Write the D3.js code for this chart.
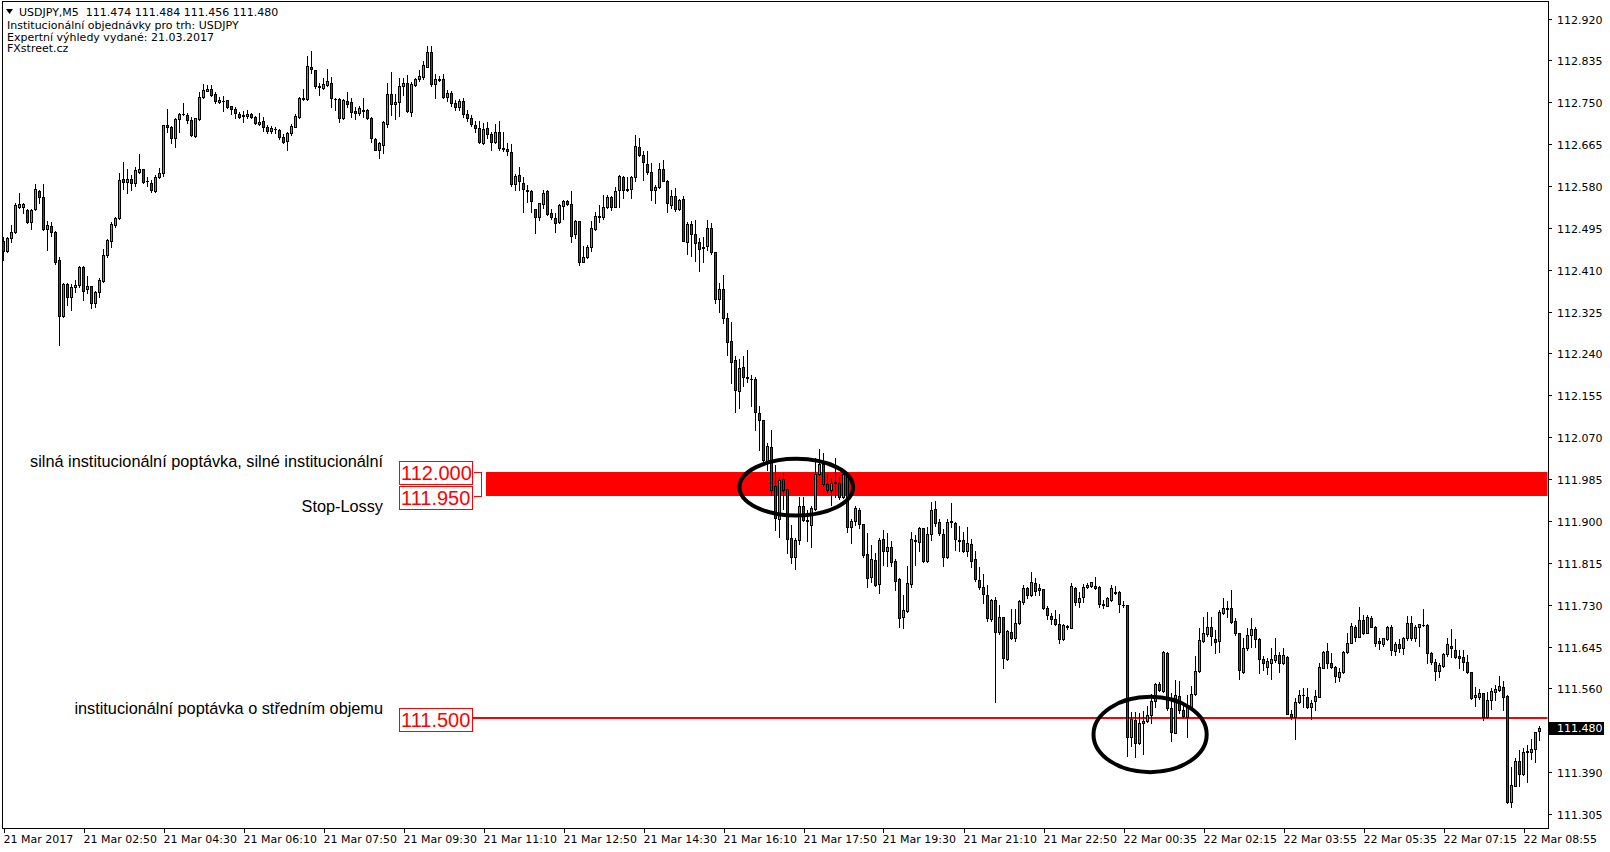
<!DOCTYPE html>
<html><head><meta charset="utf-8">
<script src="https://cdn.jsdelivr.net/npm/d3@7"></script>
<style>
html,body{margin:0;padding:0;background:#fff;}
svg{display:block;}
text{white-space:pre;}
</style></head><body>
<svg id="chart" width="1610" height="852"></svg>
<script>
// ---------- DATA (USDJPY M5) ----------
const opens = [
112.468,112.447,112.474,112.487,112.538,112.538,112.532,112.506,112.534,112.570,
112.557,112.492,112.498,112.486,112.429,112.317,112.382,112.355,112.375,112.378,
112.415,112.371,112.376,112.342,112.364,112.388,112.439,112.469,112.501,112.515,
112.594,112.589,112.594,112.587,112.609,112.614,112.590,112.587,112.570,112.599,
112.607,112.703,112.700,112.677,112.715,112.726,112.725,112.714,112.681,112.715,
112.760,112.773,112.776,112.766,112.751,112.753,112.754,112.742,112.736,112.726,
112.722,112.723,112.726,112.720,112.705,112.711,112.699,112.692,112.696,112.693,
112.679,112.672,112.687,112.700,112.721,112.756,112.756,112.821,112.816,112.782,
112.778,112.786,112.790,112.757,112.757,112.717,112.753,112.750,112.733,112.728,
112.734,112.734,112.719,112.676,112.654,112.663,112.706,112.767,112.746,112.750,
112.782,112.790,112.731,112.785,112.797,112.801,112.822,112.851,112.788,112.797,
112.797,112.760,112.768,112.748,112.740,112.752,112.726,112.718,112.704,112.697,
112.667,112.697,112.685,112.670,112.689,112.657,112.656,112.648,112.585,112.602,
112.587,112.572,112.570,112.533,112.518,112.543,112.570,112.525,112.514,112.506,
112.539,112.550,112.543,112.483,112.508,112.426,112.435,112.457,112.493,112.516,
112.516,112.537,112.558,112.538,112.571,112.598,112.573,112.574,112.599,112.659,
112.643,112.625,112.608,112.571,112.577,112.614,112.591,112.542,112.560,112.534,
112.554,112.467,112.503,112.483,112.466,112.455,112.459,112.494,112.445,112.351,
112.370,112.311,112.265,112.227,112.163,112.212,112.192,112.189,112.188,112.119,
112.104,112.022,112.050,111.971,111.903,111.985,111.964,111.865,111.826,111.861,
111.930,111.902,111.892,111.924,111.995,112.015,111.975,111.962,111.978,111.976,
111.949,111.993,111.888,111.899,111.922,111.893,111.832,111.786,111.821,111.771,
111.863,111.838,111.847,111.819,111.782,111.704,111.717,111.771,111.862,111.857,
111.885,111.819,111.873,111.924,111.897,111.873,111.826,111.900,111.895,111.861,
111.861,111.839,111.853,111.823,111.780,111.765,111.750,111.700,111.740,111.675,
111.704,111.620,111.675,111.662,111.692,111.735,111.763,111.750,111.773,111.759,
111.761,111.723,111.707,111.700,111.690,111.660,111.686,111.683,111.763,111.735,
111.746,111.765,111.767,111.768,111.765,111.731,111.728,111.740,111.756,111.755,
111.730,111.729,111.461,111.496,111.450,111.489,111.493,111.506,111.535,111.568,
111.555,111.631,111.520,111.470,111.545,111.516,111.501,111.522,111.548,111.596,
111.656,111.670,111.684,111.660,111.657,111.714,111.723,111.723,111.696,111.672,
111.594,111.641,111.668,111.681,111.660,111.619,111.603,111.612,111.618,111.628,
111.611,111.624,111.509,111.501,111.533,111.547,111.543,111.522,111.534,111.543,
111.602,111.635,111.611,111.604,111.584,111.593,111.633,111.653,111.685,111.665,
111.698,111.673,111.702,111.685,111.656,111.650,111.660,111.684,111.635,111.650,
111.643,111.662,111.692,111.663,111.684,111.689,111.689,111.631,111.614,111.595,
111.606,111.629,111.646,111.638,111.626,111.624,111.613,111.593,111.542,111.543,
111.550,111.501,111.537,111.552,111.557,111.562,111.545,111.330,111.362,111.413,
111.386,111.431,111.430,111.437,111.474];
const highs = [
112.477,112.476,112.501,112.545,112.565,112.546,112.533,112.534,112.584,112.572,
112.584,112.508,112.507,112.489,112.435,112.384,112.383,112.381,112.390,112.417,
112.417,112.398,112.377,112.367,112.393,112.453,112.473,112.507,112.518,112.606,
112.629,112.614,112.602,112.618,112.645,112.615,112.599,112.593,112.603,112.616,
112.704,112.736,112.702,112.717,112.729,112.748,112.729,112.721,112.719,112.770,
112.787,112.786,112.786,112.771,112.761,112.763,112.755,112.743,112.741,112.731,
112.732,112.734,112.729,112.722,112.729,112.721,112.704,112.702,112.700,112.695,
112.686,112.690,112.706,112.726,112.761,112.776,112.844,112.854,112.816,112.790,
112.799,112.818,112.802,112.758,112.758,112.756,112.770,112.759,112.741,112.742,
112.758,112.736,112.721,112.677,112.670,112.711,112.790,112.811,112.767,112.799,
112.800,112.805,112.792,112.800,112.816,112.834,112.864,112.864,112.807,112.803,
112.807,112.775,112.772,112.755,112.756,112.758,112.735,112.724,112.712,112.712,
112.708,112.710,112.690,112.706,112.712,112.689,112.667,112.665,112.604,112.619,
112.598,112.582,112.571,112.534,112.546,112.571,112.571,112.533,112.526,112.544,
112.552,112.552,112.570,112.511,112.509,112.458,112.460,112.508,112.528,112.541,
112.562,112.562,112.560,112.577,112.602,112.600,112.598,112.601,112.684,112.677,
112.651,112.652,112.626,112.582,112.626,112.633,112.592,112.572,112.576,112.554,
112.560,112.506,112.508,112.510,112.474,112.476,112.511,112.504,112.446,112.384,
112.399,112.323,112.303,112.234,112.228,112.234,112.247,112.196,112.193,112.133,
112.105,112.058,112.085,112.014,111.990,111.997,111.965,111.892,111.865,111.949,
111.949,111.922,111.930,112.027,112.046,112.037,111.995,111.987,112.027,111.990,
111.997,111.997,111.903,111.930,111.926,111.894,111.875,111.851,111.834,111.865,
111.882,111.875,111.859,111.823,111.784,111.750,111.809,111.878,111.872,111.887,
111.886,111.888,111.939,111.941,111.903,111.884,111.903,111.936,111.897,111.890,
111.877,111.887,111.863,111.839,111.807,111.792,111.770,111.742,111.745,111.729,
111.705,111.679,111.721,111.721,111.740,111.769,111.765,111.796,111.784,111.771,
111.762,111.728,111.714,111.719,111.712,111.690,111.689,111.773,111.766,111.755,
111.772,111.773,111.777,111.786,111.767,111.740,111.745,111.770,111.768,111.757,
111.738,111.730,111.513,111.513,111.511,111.515,111.524,111.549,111.570,111.572,
111.635,111.633,111.551,111.577,111.574,111.524,111.547,111.565,111.626,111.682,
111.704,111.716,111.704,111.679,111.719,111.743,111.738,111.760,111.702,111.673,
111.662,111.682,111.702,111.685,111.662,111.626,111.621,111.641,111.662,111.633,
111.641,111.626,111.516,111.540,111.557,111.560,111.560,111.536,111.557,111.611,
111.635,111.652,111.631,111.606,111.602,111.635,111.672,111.692,111.689,111.725,
111.709,111.709,111.707,111.687,111.663,111.663,111.687,111.689,111.655,111.660,
111.664,111.707,111.707,111.689,111.691,111.721,111.691,111.633,111.619,111.612,
111.631,111.662,111.680,111.660,111.637,111.637,111.628,111.594,111.562,111.558,
111.551,111.553,111.560,111.567,111.585,111.574,111.546,111.401,111.418,111.435,
111.438,111.445,111.457,111.472,111.484];
const lows = [
112.429,112.445,112.467,112.484,112.536,112.526,112.505,112.492,112.531,112.545,
112.491,112.451,112.478,112.421,112.257,112.315,112.338,112.329,112.365,112.375,
112.348,112.362,112.333,112.335,112.354,112.385,112.436,112.457,112.497,112.513,
112.574,112.565,112.572,112.580,112.606,112.587,112.579,112.568,112.568,112.597,
112.601,112.690,112.668,112.660,112.690,112.724,112.708,112.681,112.680,112.714,
112.758,112.772,112.763,112.748,112.748,112.733,112.738,112.726,112.717,112.717,
112.709,112.719,112.717,112.706,112.704,112.692,112.687,112.688,112.687,112.676,
112.668,112.653,112.684,112.699,112.719,112.755,112.754,112.810,112.778,112.765,
112.776,112.782,112.741,112.734,112.709,112.716,112.741,112.721,112.716,112.724,
112.721,112.715,112.670,112.653,112.636,112.646,112.699,112.724,112.715,112.722,
112.765,112.731,112.722,112.783,112.794,112.797,112.821,112.783,112.758,112.794,
112.758,112.752,112.742,112.735,112.735,112.720,112.712,112.702,112.689,112.667,
112.665,112.678,112.653,112.667,112.653,112.650,112.642,112.579,112.571,112.572,
112.527,112.548,112.527,112.485,112.511,112.536,112.521,112.513,112.487,112.504,
112.513,112.541,112.466,112.474,112.420,112.425,112.433,112.449,112.491,112.506,
112.513,112.535,112.531,112.537,112.538,112.556,112.569,112.555,112.590,112.640,
112.592,112.604,112.552,112.546,112.575,112.590,112.527,112.535,112.529,112.531,
112.468,112.442,112.438,112.428,112.408,112.425,112.451,112.442,112.342,112.325,
112.301,112.237,112.181,112.122,112.129,112.173,112.183,112.133,112.085,112.044,
112.017,112.003,111.953,111.882,111.867,111.924,111.834,111.814,111.802,111.853,
111.899,111.860,111.848,111.922,111.993,111.971,111.956,111.932,111.949,111.944,
111.946,111.878,111.855,111.892,111.885,111.827,111.765,111.775,111.767,111.753,
111.811,111.809,111.809,111.760,111.685,111.682,111.716,111.765,111.811,111.838,
111.816,111.817,111.861,111.890,111.872,111.809,111.824,111.888,111.840,111.838,
111.837,111.829,111.807,111.779,111.762,111.734,111.696,111.696,111.533,111.671,
111.602,111.618,111.660,111.656,111.690,111.732,111.744,111.748,111.750,111.750,
111.721,111.701,111.691,111.689,111.653,111.658,111.680,111.682,111.729,111.726,
111.736,111.763,111.765,111.762,111.725,111.724,111.727,111.738,111.752,111.716,
111.725,111.423,111.443,111.421,111.447,111.427,111.491,111.489,111.523,111.555,
111.553,111.516,111.454,111.469,111.511,111.501,111.461,111.518,111.547,111.594,
111.655,111.666,111.648,111.631,111.633,111.712,111.704,111.692,111.668,111.580,
111.592,111.638,111.645,111.645,111.592,111.597,111.589,111.580,111.614,111.594,
111.610,111.508,111.497,111.457,111.531,111.522,111.520,111.497,111.516,111.542,
111.601,111.601,111.601,111.572,111.574,111.591,111.631,111.652,111.657,111.664,
111.670,111.672,111.684,111.646,111.639,111.646,111.658,111.628,111.628,111.633,
111.629,111.658,111.658,111.657,111.647,111.687,111.611,111.610,111.578,111.583,
111.604,111.626,111.623,111.621,111.601,111.597,111.591,111.539,111.524,111.538,
111.495,111.499,111.518,111.537,111.555,111.516,111.328,111.319,111.361,111.361,
111.384,111.369,111.416,111.411,111.456];
const closes = [
112.447,112.474,112.487,112.541,112.543,112.543,112.506,112.532,112.574,112.557,
112.492,112.500,112.487,112.426,112.317,112.382,112.355,112.375,112.379,112.415,
112.367,112.377,112.342,112.365,112.389,112.440,112.470,112.503,112.515,112.592,
112.589,112.595,112.587,112.612,112.614,112.589,112.591,112.572,112.599,112.606,
112.703,112.700,112.677,112.715,112.726,112.727,112.714,112.683,112.717,112.760,
112.774,112.776,112.765,112.753,112.754,112.752,112.741,112.736,112.728,112.721,
112.725,112.726,112.721,112.707,112.710,112.700,112.692,112.698,112.695,112.680,
112.670,112.687,112.702,112.722,112.759,112.759,112.824,112.817,112.782,112.781,
112.788,112.793,112.758,112.756,112.717,112.755,112.746,112.731,112.728,112.738,
112.733,112.719,112.677,112.654,112.667,112.709,112.767,112.746,112.751,112.782,
112.790,112.733,112.787,112.797,112.803,112.826,112.853,112.787,112.797,112.796,
112.760,112.768,112.748,112.740,112.752,112.726,112.718,112.706,112.697,112.670,
112.695,112.685,112.670,112.689,112.658,112.656,112.650,112.585,112.600,112.590,
112.573,112.569,112.550,112.518,112.545,112.566,112.523,112.516,112.504,112.541,
112.550,112.543,112.479,112.508,112.426,112.435,112.456,112.494,112.519,112.519,
112.537,112.558,112.538,112.570,112.600,112.571,112.571,112.598,112.661,112.642,
112.628,112.609,112.571,112.577,112.614,112.591,112.545,112.560,112.534,112.552,
112.469,112.503,112.483,112.465,112.453,112.457,112.494,112.445,112.351,112.370,
112.311,112.264,112.223,112.165,112.210,112.192,112.191,112.188,112.122,112.105,
112.024,112.052,111.963,111.905,111.983,111.962,111.864,111.826,111.861,111.930,
111.902,111.900,111.926,111.995,112.015,111.974,111.962,111.978,111.979,111.949,
111.995,111.888,111.899,111.926,111.893,111.831,111.785,111.822,111.770,111.861,
111.838,111.847,111.817,111.779,111.702,111.719,111.773,111.863,111.860,111.885,
111.819,111.873,111.922,111.895,111.875,111.826,111.897,111.897,111.863,111.860,
111.838,111.855,111.819,111.782,111.765,111.751,111.702,111.740,111.675,111.704,
111.621,111.677,111.663,111.692,111.738,111.763,111.750,111.775,111.758,111.763,
111.724,111.708,111.700,111.690,111.660,111.688,111.685,111.768,111.735,111.743,
111.765,111.770,111.775,111.763,111.731,111.730,111.743,111.763,111.753,111.731,
111.729,111.461,111.497,111.450,111.489,111.494,111.506,111.535,111.568,111.557,
111.633,111.520,111.472,111.547,111.516,111.503,111.523,111.548,111.595,111.658,
111.672,111.685,111.666,111.654,111.715,111.723,111.722,111.694,111.672,111.597,
111.641,111.668,111.681,111.660,111.619,111.611,111.616,111.619,111.628,111.612,
111.627,111.509,111.501,111.533,111.547,111.546,111.522,111.531,111.545,111.604,
111.633,111.611,111.604,111.586,111.593,111.633,111.653,111.687,111.665,111.698,
111.673,111.704,111.685,111.653,111.652,111.662,111.684,111.638,111.650,111.643,
111.662,111.692,111.663,111.685,111.690,111.688,111.631,111.614,111.596,111.608,
111.629,111.650,111.641,111.623,111.621,111.614,111.593,111.540,111.547,111.550,
111.501,111.537,111.555,111.558,111.565,111.543,111.329,111.364,111.413,111.386,
111.430,111.432,111.437,111.471,111.480];

const timeTickIndex = [0,20,40,60,80,100,120,140,160,180,200,220,240,260,280,300,320,340,360,380];
const timeTickLabels = ["21 Mar 2017","21 Mar 02:50","21 Mar 04:30","21 Mar 06:10","21 Mar 07:50",
  "21 Mar 09:30","21 Mar 11:10","21 Mar 12:50","21 Mar 14:30","21 Mar 16:10","21 Mar 17:50",
  "21 Mar 19:30","21 Mar 21:10","21 Mar 22:50","22 Mar 00:35","22 Mar 02:15","22 Mar 03:55",
  "22 Mar 05:35","22 Mar 07:15","22 Mar 08:55"];
const priceTicks = [112.920,112.835,112.750,112.665,112.580,112.495,112.410,112.325,112.240,112.155,
  112.070,111.985,111.900,111.815,111.730,111.645,111.560,111.390,111.305];
const lastPrice = 111.480;
const headerLines = ["USDJPY,M5  111.474 111.484 111.456 111.480",
  "Institucionální objednávky pro trh: USDJPY",
  "Expertní výhledy vydané: 21.03.2017",
  "FXstreet.cz"];
const zoneLevels = [112.000, 111.950];
const lineLevel = 111.500;
const noteTexts = ["silná institucionální poptávka, silné institucionální", "Stop-Lossy",
  "institucionální poptávka o středním objemu"];
// ellipse highlights: [start bar, end bar, top price, bottom price]
const ellipseBars = [[184.0, 212.4, 112.026, 111.911], [272.5, 300.8, 111.543, 111.390]];

// ---------- DRAW ----------
const W = 1610, H = 852;
const plot = {left: 2, right: 1548, top: 1, bottom: 828};
const svg = d3.select("#chart");
const N = opens.length;
const x = d3.scaleLinear().domain([0, N - 1]).range([3.5, 3.5 + 4 * (N - 1)]);
const y = d3.scaleLinear().domain([111.305, 112.920]).range([814, 18.5]);
const BULL = "#00e600", BEAR = "#ee0000";
const defs = svg.append("defs");
defs.append("clipPath").attr("id", "clip").append("rect")
  .attr("x", plot.left + 0.5).attr("y", plot.top + 0.5)
  .attr("width", plot.right - plot.left - 1).attr("height", plot.bottom - plot.top - 1);

svg.append("rect").attr("width", W).attr("height", H).attr("fill", "#fff");

const g = svg.append("g").attr("clip-path", "url(#clip)");

// zone (red band) and horizontal level
const yz0 = Math.round(y(zoneLevels[0])), yz1 = Math.round(y(zoneLevels[1]));
g.append("rect").attr("x", 486).attr("y", yz0).attr("width", plot.right - 486).attr("height", yz1 - yz0)
  .attr("fill", "#ff0000");
g.append("path").attr("d", `M474,${yz0 + 0.5}H481.5V${yz1 + 0.5}H474`).attr("fill", "none")
  .attr("stroke", "#ff0000").attr("stroke-width", 1).attr("shape-rendering", "crispEdges");
const yl = y(lineLevel);
g.append("line").attr("x1", 473).attr("x2", plot.right).attr("y1", yl).attr("y2", yl)
  .attr("stroke", "#ff0000").attr("stroke-width", 2);

// candles
const idx = d3.range(N);
const cg = g.append("g").attr("shape-rendering", "crispEdges");
cg.selectAll("line.wick").data(idx).join("line").attr("class", "wick")
  .attr("x1", i => x(i)).attr("x2", i => x(i))
  .attr("y1", i => Math.round(y(highs[i]))).attr("y2", i => Math.round(y(lows[i])) + 1)
  .attr("stroke", "#000").attr("stroke-width", 1);
idx.forEach(i => {
  const a = Math.round(y(opens[i])), b = Math.round(y(closes[i]));
  const top = Math.min(a, b), bot = Math.max(a, b);
  if (bot - top < 1) {
    cg.append("line").attr("x1", x(i) - 1.5).attr("x2", x(i) + 1.5)
      .attr("y1", top + 0.5).attr("y2", top + 0.5).attr("stroke", "#000");
  } else {
    cg.append("rect").attr("x", x(i) - 1).attr("y", top + 0.5).attr("width", 2).attr("height", bot - top)
      .attr("fill", closes[i] >= opens[i] ? BULL : BEAR).attr("stroke", "#000").attr("stroke-width", 1);
  }
});

// ellipses
ellipseBars.forEach(([b0, b1, p0, p1]) => {
  g.append("ellipse").attr("cx", (x(b0) + x(b1)) / 2).attr("cy", (y(p0) + y(p1)) / 2)
    .attr("rx", (x(b1) - x(b0)) / 2).attr("ry", (y(p1) - y(p0)) / 2)
    .attr("fill", "none").attr("stroke", "#000").attr("stroke-width", 4);
});

// frame
svg.append("rect").attr("x", plot.left + 0.5).attr("y", plot.top + 0.5)
  .attr("width", plot.right - plot.left).attr("height", plot.bottom - plot.top)
  .attr("fill", "none").attr("stroke", "#000").attr("shape-rendering", "crispEdges");

// right price axis
const axisFont = "'DejaVu Sans', Verdana, sans-serif";
const ra = svg.append("g");
priceTicks.forEach(p => {
  const yy = Math.round(y(p)) + 0.5;
  ra.append("line").attr("x1", plot.right).attr("x2", plot.right + 4).attr("y1", yy).attr("y2", yy)
    .attr("stroke", "#000").attr("shape-rendering", "crispEdges");
  ra.append("text").attr("x", 1557).attr("y", yy + 4).text(p.toFixed(3))
    .attr("font-family", axisFont).attr("font-size", "11px").attr("fill", "#000");
});
const ylp = Math.round(y(lastPrice));
ra.append("rect").attr("x", plot.right + 1).attr("y", ylp - 6).attr("width", 55).attr("height", 13).attr("fill", "#000");
ra.append("text").attr("x", 1557).attr("y", ylp + 4).text(lastPrice.toFixed(3))
  .attr("font-family", axisFont).attr("font-size", "11px").attr("fill", "#fff");

// bottom time axis
const ba = svg.append("g");
timeTickIndex.forEach((ti, k) => {
  const xx = Math.round(x(ti)) + 0.5;
  ba.append("line").attr("x1", xx).attr("x2", xx).attr("y1", plot.bottom).attr("y2", plot.bottom + 5)
    .attr("stroke", "#000").attr("shape-rendering", "crispEdges");
  ba.append("text").attr("x", xx - 1).attr("y", 843).text(timeTickLabels[k])
    .attr("font-family", axisFont).attr("font-size", "11px").attr("fill", "#000");
});

// header
const hd = svg.append("g").attr("font-family", axisFont).attr("font-size", "11px").attr("fill", "#000");
hd.append("path").attr("d", "M6,9H13L9.5,14Z").attr("fill", "#000");
hd.append("text").attr("x", 19).attr("y", 16).text(headerLines[0]);
[28.5, 40.5, 52].forEach((yy, k) => hd.append("text").attr("x", 7).attr("y", yy).text(headerLines[k + 1]));

// notes
const nf = "'Liberation Sans', Arial, sans-serif";
[[467, 0], [512, 1], [714, 2]].forEach(([yy, k]) => svg.append("text").attr("x", 383).attr("y", yy)
  .attr("text-anchor", "end").attr("font-family", nf).attr("font-size", "16.3px").attr("fill", "#000").text(noteTexts[k]));

// price label boxes
[[zoneLevels[0], 461], [zoneLevels[1], 486], [lineLevel, 707.5]].forEach(([p, top]) => {
  svg.append("rect").attr("x", 399.5).attr("y", top + 0.5).attr("width", 73).attr("height", 23)
    .attr("fill", "#fff").attr("stroke", "#ff0000").attr("shape-rendering", "crispEdges");
  svg.append("text").attr("x", 401).attr("y", top + 19).text(p.toFixed(3))
    .attr("font-family", nf).attr("font-size", "20px").attr("fill", "#ff0000");
});
</script>
</body></html>
